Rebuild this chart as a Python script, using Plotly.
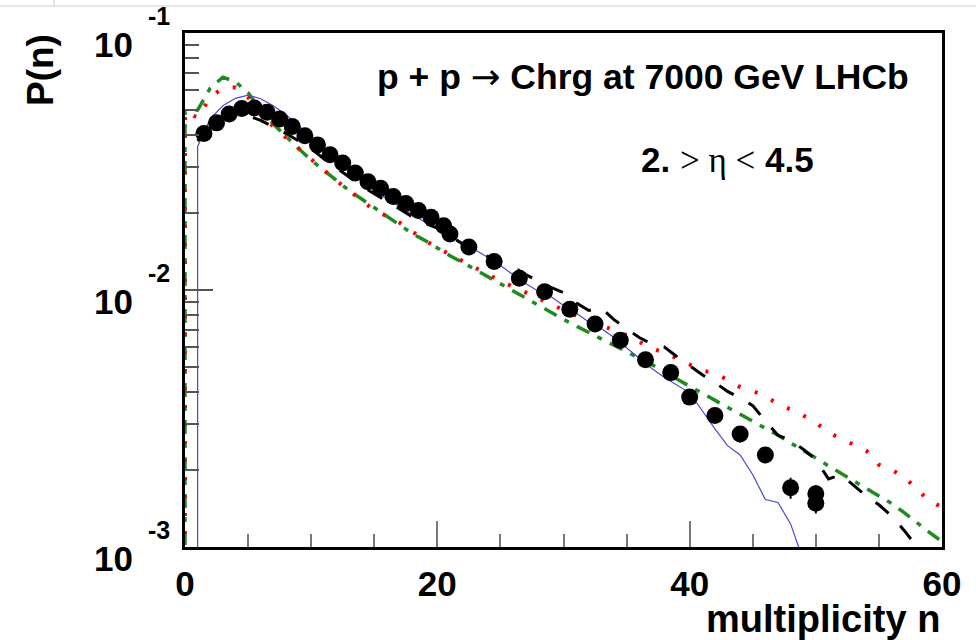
import math
import plotly.graph_objects as go

# ---------------- data ----------------
n_data = [1.5, 2.5, 3.5, 4.5, 5.5, 6.5, 7.5, 8.5, 9.5, 10.5,
          11.5, 12.5, 13.5, 14.5, 15.5, 16.5, 17.5, 18.5, 19.5, 20.5,
          21, 22.5, 24.5, 26.5, 28.5, 30.5, 32.5, 34.5, 36.5, 38.5,
          40, 42, 44, 46, 48, 50, 50]
p_data = [0.0406, 0.0447, 0.0484, 0.0508, 0.0511, 0.0492, 0.0463, 0.0433, 0.0398, 0.0367,
          0.0336, 0.0312, 0.0285, 0.0264, 0.0249, 0.0231, 0.0217, 0.0204, 0.0192, 0.0178,
          0.0165, 0.0147, 0.0129, 0.0111, 0.00984, 0.00842, 0.00738, 0.00637, 0.00535, 0.00477,
          0.00383, 0.00325, 0.00275, 0.00228, 0.00170, 0.00161, 0.00148]
err_data = [0.0010, 0.0010, 0.0011, 0.0011, 0.0011, 0.0011, 0.0010, 0.0010, 0.0009, 0.0008,
            0.0008, 0.0007, 0.0007, 0.0006, 0.0006, 0.0006, 0.0005, 0.0005, 0.0005, 0.0005,
            0.0005, 0.0004, 0.0004, 0.0004, 0.0003, 0.0003, 0.0003, 0.0003, 0.0002, 0.0002,
            0.0002, 0.0002, 0.0002, 0.00016, 0.00016, 0.00013, 0.00013]

# blue solid model
n_blue = [1, 1, 2, 3, 4, 5, 6, 7, 8, 9, 10, 11, 12, 13, 14, 15, 16, 17, 18, 19, 20,
          21, 22, 23, 24, 25, 26, 27, 28, 29, 30, 31, 32, 33, 34, 35, 36, 37, 38, 39, 40,
          41, 42, 43, 44, 45, 46, 47, 48, 49]
p_blue = [0.0001, 0.0362, 0.0463, 0.0521, 0.0557, 0.0573, 0.0555, 0.0521, 0.0481, 0.0437, 0.0394,
          0.0355, 0.0324, 0.0295, 0.0269, 0.0245, 0.0226, 0.0211, 0.0197, 0.0184, 0.0175,
          0.0164, 0.0153, 0.0143, 0.0134, 0.01245, 0.01148, 0.01059, 0.00989, 0.00944, 0.00871,
          0.00813, 0.0075, 0.00708, 0.00653, 0.00596, 0.00543, 0.00495, 0.00457, 0.00427, 0.00398,
          0.00339, 0.00288, 0.00248, 0.00228, 0.00191, 0.00153, 0.00149, 0.00123, 0.00089]

# black dashed model
n_black = [1, 2, 3, 4, 5, 6, 7, 8, 9, 10, 11, 12, 13, 14, 15, 16, 17, 18, 19, 20,
           21, 22, 23, 24, 25, 26, 27, 28, 29, 30, 31, 32, 33, 34, 35, 36, 37, 38, 39, 40,
           41, 42, 43, 44, 45, 46, 47, 48, 49, 50, 51, 52, 53, 54, 55, 56, 57, 58, 59]
p_black = [0.0380, 0.0437, 0.0479, 0.0495, 0.0476, 0.0457, 0.0432, 0.0407, 0.0380, 0.0355,
           0.0324, 0.0299, 0.0275, 0.0254, 0.0237, 0.0221, 0.0207, 0.0193, 0.0182, 0.0174,
           0.0162, 0.0151, 0.01435, 0.0135, 0.0129, 0.0123, 0.01148, 0.01084, 0.01023, 0.00977,
           0.00891, 0.00832, 0.00851, 0.00767, 0.00708, 0.00653, 0.00617, 0.0060, 0.0055, 0.00507,
           0.00468, 0.00437, 0.00403, 0.0038, 0.00355, 0.00309, 0.00272, 0.0026, 0.0024, 0.00219,
           0.00184, 0.00191, 0.00174, 0.00158, 0.00146, 0.00132, 0.00116, 0.0010, 0.00087]

# red dotted model
n_red = [0, 0, 1, 2, 3, 4, 5, 6, 7, 8, 9, 10, 11, 12, 13, 14, 15, 16, 17, 18, 19, 20,
         21, 22, 23, 24, 25, 26, 27, 28, 29, 30, 31, 32, 33, 34, 35, 36, 37, 38, 39, 40,
         41, 42, 43, 44, 45, 46, 47, 48, 49, 50, 51, 52, 53, 54, 55, 56, 57, 58, 59, 60]
p_red = [0.0001, 0.0495, 0.0468, 0.0562, 0.0610, 0.0614, 0.0562, 0.0484, 0.0432, 0.0392, 0.0353, 0.0321,
         0.0292, 0.0266, 0.0244, 0.0223, 0.0204, 0.0194, 0.0183, 0.0169, 0.0156, 0.0146,
         0.01374, 0.01303, 0.01216, 0.01148, 0.01084, 0.0103, 0.00977, 0.00927, 0.00879, 0.00832,
         0.00794, 0.00759, 0.00724, 0.00697, 0.00667, 0.00631, 0.00592, 0.00571, 0.00543, 0.00513,
         0.00485, 0.00476, 0.00447, 0.00419, 0.00405, 0.00385, 0.00361, 0.00343, 0.00325, 0.00305,
         0.00279, 0.00264, 0.00251, 0.00237, 0.00209, 0.0020, 0.00187, 0.00168, 0.00151, 0.00143]

# green dash-dot model
n_green = [0, 0, 1, 2, 3, 4, 5, 6, 7, 8, 9, 10, 11, 12, 13, 14, 15, 16, 17, 18, 19, 20,
           21, 22, 23, 24, 25, 26, 27, 28, 29, 30, 31, 32, 33, 34, 35, 36, 37, 38, 39, 40,
           41, 42, 43, 44, 45, 46, 47, 48, 49, 50, 51, 52, 53, 54, 55, 56, 57, 58, 59, 60]
p_green = [0.0001, 0.0495, 0.0501, 0.0610, 0.0673, 0.0646, 0.0586, 0.0501, 0.0442, 0.0395, 0.0355, 0.0320,
           0.0292, 0.0266, 0.0244, 0.0226, 0.0209, 0.0195, 0.0180, 0.0166, 0.0156, 0.0145,
           0.0136, 0.0128, 0.0120, 0.01127, 0.01054, 0.00989, 0.00927, 0.00871, 0.00818, 0.00769,
           0.00724, 0.00684, 0.00646, 0.0061, 0.00575, 0.00543, 0.00513, 0.00479, 0.0045, 0.00422,
           0.00396, 0.00372, 0.00351, 0.0033, 0.0031, 0.0029, 0.00272, 0.00254, 0.00238, 0.00222,
           0.00207, 0.00194, 0.00181, 0.00169, 0.00158, 0.00148, 0.00136, 0.00124, 0.00114, 0.00105]

x_ticks = [0, 20, 40, 60]
x_tick_labels = ["0", "20", "40", "60"]
y_ticks = [1e-3, 1e-2, 1e-1]
y_tick_base = ["10", "10", "10"]
y_tick_exp = ["-3", "-2", "-1"]
y_minor = [m * d for d in (1e-3, 1e-2) for m in range(2, 10)]

title_text = ("<b>p + p <span style='font-family:DejaVu Sans;font-weight:normal'>→</span>"
              " Chrg at 7000 GeV LHCb</b>")
eta_text = ("<b>2.</b> <span style='font-family:Liberation Serif'>&gt; η &lt;</span> <b>4.5</b>")
x_title = "<b>multiplicity n</b>"
y_title = "<b>P(n)</b>"

FONT = "Liberation Sans, Arial, Helvetica, sans-serif"

fig = go.Figure()

fig.add_trace(go.Scatter(x=n_green, y=p_green, mode="lines",
                         line=dict(color="#1f8a1f", width=3.5, dash="14px,9px,5px,9px"),
                         showlegend=False, hoverinfo="skip"))
fig.add_trace(go.Scatter(x=n_red, y=p_red, mode="lines",
                         line=dict(color="#ff0000", width=4, dash="3px,15px"),
                         showlegend=False, hoverinfo="skip"))
fig.add_trace(go.Scatter(x=n_blue, y=p_blue, mode="lines",
                         line=dict(color="#4a4ad0", width=1.2),
                         showlegend=False, hoverinfo="skip"))
fig.add_trace(go.Scatter(x=n_black, y=p_black, mode="lines",
                         line=dict(color="black", width=3, dash="17px,17px"),
                         showlegend=False, hoverinfo="skip"))
fig.add_trace(go.Scatter(x=n_data, y=p_data, mode="markers",
                         marker=dict(color="black", size=17, line=dict(width=0)),
                         error_y=dict(type="data", array=err_data, color="black",
                                      thickness=2, width=0),
                         showlegend=False, hoverinfo="skip"))

fig.update_xaxes(range=[0, 60], showgrid=False, zeroline=False, automargin=False,
                 showline=True, linecolor="black", linewidth=3, mirror=True,
                 ticks="inside", tickvals=x_ticks,
                 ticktext=["<b>%s</b>" % t for t in x_tick_labels],
                 ticklen=26, tickwidth=1.5, tickcolor="#777777",
                 tickfont=dict(family=FONT, size=35, color="black"),
                 ticklabelstandoff=4,
                 minor=dict(ticks="inside", dtick=5, ticklen=13, tickwidth=1.5,
                            tickcolor="#777777", showgrid=False))
fig.update_yaxes(type="log", range=[-3, -1], showgrid=False, zeroline=False, automargin=False,
                 showline=True, linecolor="black", linewidth=3, mirror=True,
                 ticks="inside", tickvals=y_ticks, showticklabels=False,
                 ticklen=28, tickwidth=1.5, tickcolor="#555555",
                 minor=dict(ticks="inside", tickmode="array", tickvals=y_minor,
                            ticklen=14, tickwidth=1.5, tickcolor="#555555", showgrid=False))

annotations = []
for v, b, e in zip(y_ticks, y_tick_base, y_tick_exp):
    annotations.append(dict(xref="paper", yref="y", x=0, y=math.log10(v),
                            xanchor="right", yanchor="middle", xshift=-50, yshift=-11,
                            text="<b>%s</b>" % b, showarrow=False,
                            font=dict(family=FONT, size=35, color="black")))
    annotations.append(dict(xref="paper", yref="y", x=0, y=math.log10(v),
                            xanchor="right", yanchor="middle", xshift=-13, yshift=17,
                            text="<b>%s</b>" % e, showarrow=False,
                            font=dict(family=FONT, size=25, color="black")))

annotations += [
    dict(xref="paper", yref="paper", x=(375 - 185) / 757, y=1 - (76 - 33) / 514,
         xanchor="left", yanchor="middle", text=title_text, showarrow=False,
         font=dict(family=FONT, size=35.5, color="black")),
    dict(xref="paper", yref="paper", x=(639 - 185) / 757, y=1 - (160 - 33) / 514,
         xanchor="left", yanchor="middle", text=eta_text, showarrow=False,
         font=dict(family=FONT, size=35, color="black")),
    dict(xref="paper", yref="paper", x=(942 - 185) / 757, y=1 - (619 - 33) / 514,
         xanchor="right", yanchor="middle", text=x_title, showarrow=False,
         font=dict(family=FONT, size=38, color="black")),
    dict(xref="paper", yref="paper", x=(41 - 185) / 757, y=1 - (70 - 33) / 514,
         xanchor="center", yanchor="middle", text=y_title, showarrow=False, textangle=-90,
         font=dict(family=FONT, size=37, color="black")),
]

shapes = [
    dict(type="line", xref="paper", yref="paper", x0=-185 / 757, x1=791 / 757,
         y0=1 + 27 / 514, y1=1 + 27 / 514, line=dict(color="#cfcfcf", width=1)),
    dict(type="line", xref="paper", yref="paper", x0=(54 - 185) / 757, x1=(54 - 185) / 757,
         y0=1 + 27 / 514, y1=1 + 33 / 514, line=dict(color="#cfcfcf", width=1)),
]

fig.update_layout(width=976, height=640, margin=dict(l=185, r=34, t=33, b=93),
                  paper_bgcolor="white", plot_bgcolor="white",
                  annotations=annotations, shapes=shapes, showlegend=False)

fig.write_html("out.html", config={"displayModeBar": False},
               post_script="document.body.style.margin='0';document.body.style.overflow='hidden';")
